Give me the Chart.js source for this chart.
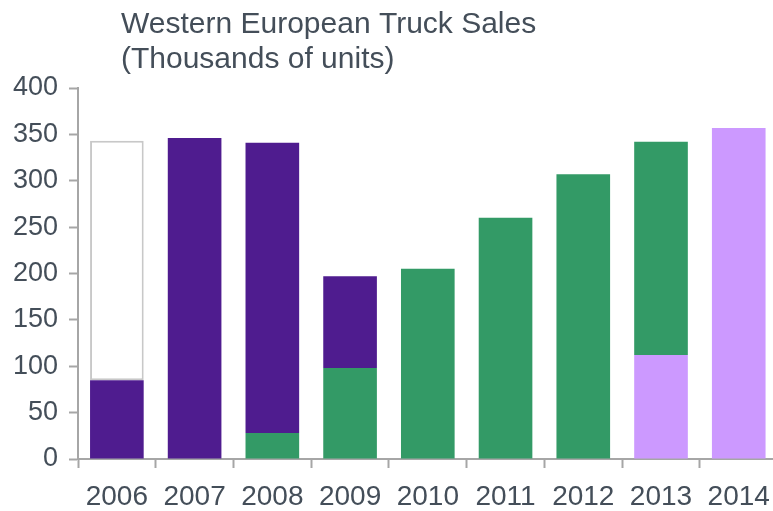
<!DOCTYPE html>
<html>
<head>
<meta charset="utf-8">
<script src="https://cdn.jsdelivr.net/npm/chart.js@4/dist/chart.umd.min.js"></script>
<style>
  html, body { margin: 0; padding: 0; background: #fff; overflow: hidden; }
  #wrap { width: 773px; height: 511px; overflow: hidden; }
  #box { width: 782px; height: 511px; }
</style>
</head>
<body>
<div id="wrap"><div id="box"><canvas id="chart"></canvas></div></div>
<script>
// western european truck sales, thousands of units
const years = ["2006", "2007", "2008", "2009", "2010", "2011", "2012", "2013", "2014"];

// stack segments, bottom to top
const light_purple = [0, 0, 0, 0, 0, 0, 0, 112, 357];
const green = [0, 0, 28, 98, 205, 260, 307, 230, 0];
const purple = [85, 346, 313, 99, 0, 0, 0, 0, 0];
const outline = [258, 0, 0, 0, 0, 0, 0, 0, 0];

const title_lines = ["Western European Truck Sales", "(Thousands of units)"];

const text_color = "#444e59";
const axis_color = "#a6a6a6";
const font_family = "'Liberation Sans', Arial, sans-serif";

// the title sits a bit to the right of the plot's left edge, so draw it by hand
const title_plugin = {
  id: "left_title",
  afterDraw(chart) {
    const ctx = chart.ctx;
    ctx.save();
    ctx.fillStyle = text_color;
    ctx.font = "30px " + font_family;
    ctx.textAlign = "left";
    ctx.textBaseline = "alphabetic";
    title_lines.forEach((line, i) => {
      ctx.fillText(line, chart.chartArea.left + 43, 33 + i * 35);
    });
    ctx.restore();
  }
};

function bar_set(label, data, color, border) {
  return {
    label: label,
    data: data,
    backgroundColor: color,
    borderColor: border || color,
    borderWidth: border ? 2 : 0,
    borderSkipped: false,
    categoryPercentage: 1.0,
    barPercentage: 0.69
  };
}

const config = {
  type: "bar",
  data: {
    labels: years,
    datasets: [
      bar_set("light purple", light_purple, "#cc99ff"),
      bar_set("green", green, "#339a66"),
      bar_set("purple", purple, "#4f1c8f"),
      bar_set("outline", outline, "#ffffff", "#c8c8c8")
    ]
  },
  options: {
    responsive: true,
    maintainAspectRatio: false,
    animation: false,
    layout: { padding: { top: 88, right: 2, bottom: 0, left: 0 } },
    plugins: {
      legend: { display: false },
      title: { display: false },
      tooltip: { enabled: false }
    },
    scales: {
      x: {
        stacked: true,
        grid: {
          offset: true,
          drawOnChartArea: false,
          drawTicks: true,
          tickLength: 9,
          tickColor: axis_color,
          tickWidth: 2
        },
        border: { color: axis_color, width: 2 },
        ticks: {
          color: text_color,
          font: { family: font_family, size: 28 },
          padding: 12,
          maxRotation: 0,
          autoSkip: false
        },
        afterFit(scale) { scale.height = 52; }
      },
      y: {
        stacked: true,
        min: 0,
        max: 400,
        grid: {
          drawOnChartArea: false,
          drawTicks: true,
          tickLength: 9,
          tickColor: axis_color,
          tickWidth: 2
        },
        border: { color: axis_color, width: 2 },
        ticks: {
          stepSize: 50,
          color: text_color,
          font: { family: font_family, size: 27 },
          padding: 11
        },
        afterFit(scale) { scale.width = 78; }
      }
    }
  },
  plugins: [title_plugin]
};

new Chart(document.getElementById("chart").getContext("2d"), config);
</script>
</body>
</html>
